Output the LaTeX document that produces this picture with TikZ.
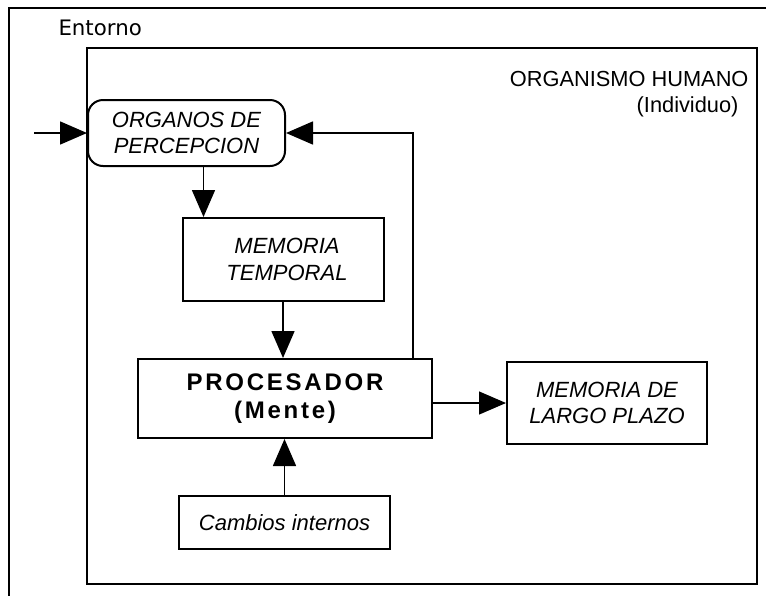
\documentclass[tikz,border=0pt]{standalone}
\usepackage{fontspec}
\setmainfont{Liberation Sans}
\newfontfamily\envfont{DejaVu Sans}
\usetikzlibrary{arrows.meta}

\begin{document}
\begin{tikzpicture}[x=1pt, y=-1pt,
        box/.style={draw, line width=2pt, inner sep=0pt, align=center,
                    font=\fontsize{22}{26.5}\selectfont\itshape},
        arr/.style={line width=1.6pt, -{Triangle[length=27pt, width=23pt]}},
        frame/.style={line width=2pt}]
        \useasboundingbox (0,0) rectangle (766,595);

        \draw[frame] (9,600) -- (9,8) -- (770,8);
        \node[anchor=base west, font=\envfont\fontsize{21.3}{24}\selectfont] (ent) at (55,35) {Entorno};

        \draw[frame] (87,48) rectangle (757,584);
        \node[anchor=base east, font=\fontsize{21.8}{24}\selectfont] (org) at (752,86) {ORGANISMO HUMANO};
        \node[anchor=base east, font=\fontsize{21.8}{24}\selectfont] (ind) at (742,112) {(Individuo)};

        \node[box, rounded corners=15pt, minimum width=197pt, minimum height=66pt] (organos) at (186.5,133) {ORGANOS DE\\PERCEPCION};
        \node[box, minimum width=201pt, minimum height=83pt] (mt) at (283,259.5) {\hspace*{8pt}MEMORIA\\\hspace*{8pt}TEMPORAL};
        \node[box, minimum width=294pt, minimum height=79pt, font=\fontsize{24}{28}\selectfont\bfseries\addfontfeature{LetterSpace=11.5}] (proc) at (285,398.5) {PROCESADOR\\(Mente)};
        \node[box, minimum width=200pt, minimum height=82pt] (mlp) at (607,403) {MEMORIA DE\\LARGO PLAZO};
        \node[box, minimum width=211pt, minimum height=53pt] (cambios) at (284.5,522.5) {Cambios internos};

        \coordinate (in) at (34,133);
        \coordinate (mtin) at ([xshift=22pt]mt.north west);
        \coordinate (back) at ([xshift=-20pt]proc.north east);

        \draw[arr] (in) -- (organos.west);
        \draw[arr] (organos.south -| mtin) -- (mtin);
        \draw[arr] (mt.south) -- (proc.north -| mt.south);
        \draw[arr] (back) -- (back |- organos.east) -- (organos.east);
        \draw[arr, line width=1.2pt] (proc.east |- mlp.west) -- (mlp.west);
        \draw[arr] (cambios.north) -- (proc.south -| cambios.north);
\end{tikzpicture}
\end{document}
